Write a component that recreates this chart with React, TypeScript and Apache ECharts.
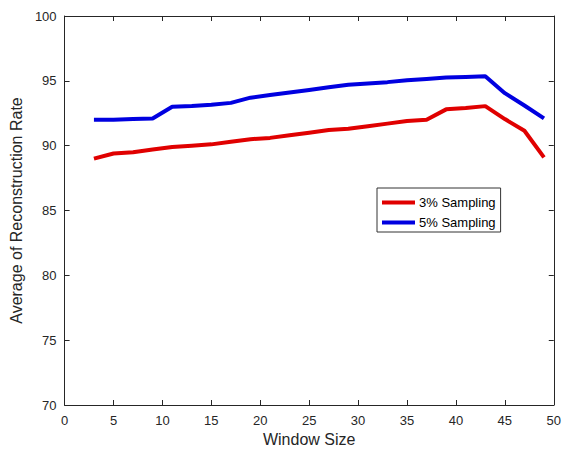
import React, { useEffect, useRef } from "react";
import * as echarts from "echarts";

const windowSizes = [3, 5, 7, 9, 11, 13, 15, 17, 19, 21, 23, 25, 27, 29, 31, 33, 35, 37, 39, 41, 43, 45, 47, 49];
const sampling3 = [89.0, 89.4, 89.5, 89.7, 89.9, 90.0, 90.1, 90.3, 90.5, 90.6, 90.8, 91.0, 91.2, 91.3, 91.5, 91.7, 91.9, 92.0, 92.8, 92.9, 93.05, 92.05, 91.15, 89.1];
const sampling5 = [92.0, 92.0, 92.05, 92.1, 93.0, 93.05, 93.15, 93.3, 93.7, 93.9, 94.1, 94.3, 94.5, 94.7, 94.8, 94.9, 95.05, 95.15, 95.25, 95.3, 95.35, 94.05, 93.1, 92.1];
const seriesNames = ["3% Sampling", "5% Sampling"];
const seriesColors = ["#e00000", "#0000e0"];

export default function App() {
  const ref = useRef<HTMLDivElement>(null);
  useEffect(() => {
    if (!ref.current) return;
    const chart = echarts.init(ref.current, undefined, { renderer: "svg" });
    const font = "Liberation Sans, Arial, sans-serif";
    const axisColor = "#262626";
    const baseAxis = {
      axisLine: { show: true, onZero: false, lineStyle: { color: axisColor, width: 1 } },
      axisTick: { show: true, inside: true, length: 5, lineStyle: { color: axisColor } },
      splitLine: { show: false },
    };
    chart.setOption({
      animation: false,
      backgroundColor: "#ffffff",
      textStyle: { fontFamily: font },
      grid: { left: 62, top: 16, right: 10, bottom: 48, containLabel: false },
      legend: {
        data: seriesNames,
        orient: "vertical",
        left: 377,
        top: 188,
        icon: "rect",
        itemWidth: 33,
        itemHeight: 4,
        itemGap: 7,
        padding: [8, 5, 3, 5],
        borderColor: "#333333",
        borderWidth: 1,
        backgroundColor: "#ffffff",
        textStyle: { fontFamily: font, fontSize: 13, color: "#000000", padding: [0, 0, 0, -1] },
      },
      xAxis: [
        {
          ...baseAxis,
          type: "value",
          min: 0,
          max: 50,
          interval: 5,
          name: "Window Size",
          nameLocation: "middle",
          nameGap: 24,
          nameTextStyle: { fontFamily: font, fontSize: 16, color: axisColor },
          axisLabel: { fontFamily: font, fontSize: 13, color: axisColor, margin: 9 },
        },
        {
          ...baseAxis,
          type: "value",
          position: "top",
          min: 0,
          max: 50,
          interval: 5,
          axisLabel: { show: false },
        },
      ],
      yAxis: [
        {
          ...baseAxis,
          type: "value",
          min: 70,
          max: 100,
          interval: 5,
          name: "Average of Reconstruction Rate",
          nameLocation: "middle",
          nameGap: 38,
          nameTextStyle: { fontFamily: font, fontSize: 16, color: axisColor },
          axisLabel: { fontFamily: font, fontSize: 13, color: axisColor, margin: 8 },
        },
        {
          ...baseAxis,
          type: "value",
          position: "right",
          min: 70,
          max: 100,
          interval: 5,
          axisLabel: { show: false },
        },
      ],
      series: [sampling3, sampling5].map((vals, i) => ({
        name: seriesNames[i],
        type: "line",
        data: windowSizes.map((x, j) => [x, vals[j]]),
        showSymbol: false,
        symbol: "none",
        lineStyle: { color: seriesColors[i], width: 4 },
        itemStyle: { color: seriesColors[i] },
      })),
    });
    return () => chart.dispose();
  }, []);
  return <div ref={ref} style={{ width: 564, height: 453, position: "absolute", left: 0, top: 0 }} />;
}
